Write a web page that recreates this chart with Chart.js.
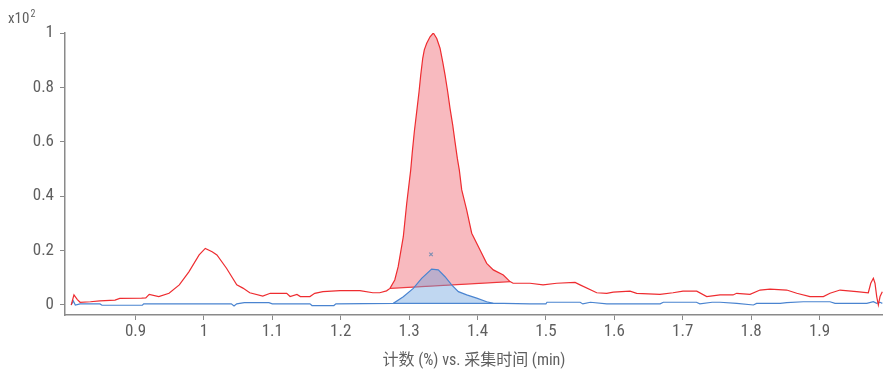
<!DOCTYPE html>
<html>
<head>
<meta charset="utf-8">
<script src="https://cdn.jsdelivr.net/npm/chart.js@4/dist/chart.umd.min.js"></script>
<style>
  html, body { margin: 0; padding: 0; background: #fff; }
  #wrap { width: 883px; height: 377px; }
  canvas { display: block; }
</style>
</head>
<body>
<div id="wrap"><canvas id="chart" width="883" height="377"></canvas></div>
<script>
// acquisition time (min) and counts (x10^2)
const redX = [0.806, 0.810, 0.815, 0.819, 0.834, 0.848, 0.870, 0.877, 0.909, 0.915, 0.920, 0.934, 0.949, 0.964, 0.978, 0.993, 1.002, 1.012, 1.019, 1.033, 1.048, 1.057, 1.067, 1.086, 1.097, 1.121, 1.126, 1.136, 1.141, 1.155, 1.162, 1.174, 1.199, 1.228, 1.247, 1.257, 1.267,
  1.272, 1.279, 1.284, 1.2915, 1.2965, 1.3023, 1.3047, 1.3076, 1.3111, 1.3145, 1.317, 1.3199, 1.3222, 1.3257, 1.3306, 1.3354, 1.3404, 1.3452, 1.3491, 1.3525, 1.3564, 1.3598, 1.3637, 1.3671, 1.3705, 1.3734, 1.3769, 1.3842, 1.3915, 1.4037, 1.4134, 1.4231, 1.4377, 1.4475,
  1.452, 1.4767, 1.4958, 1.5158, 1.5426, 1.5499, 1.5743, 1.5889, 1.5985, 1.623, 1.6327, 1.6668, 1.6858, 1.7004, 1.7205, 1.7351, 1.7545, 1.7735, 1.7789, 1.7984, 1.813, 1.8276, 1.852, 1.8667, 1.886, 1.9056, 1.9153, 1.93, 1.9544, 1.9713, 1.9749, 1.9787, 1.9811, 1.9836, 1.986, 1.9885, 1.9918];
const redY = [0.000, 0.037, 0.020, 0.010, 0.012, 0.015, 0.018, 0.024, 0.025, 0.026, 0.039, 0.031, 0.043, 0.074, 0.122, 0.184, 0.208, 0.196, 0.184, 0.135, 0.074, 0.062, 0.045, 0.033, 0.043, 0.043, 0.031, 0.039, 0.031, 0.031, 0.043, 0.049, 0.053, 0.053, 0.045, 0.045, 0.052,
  0.061, 0.092, 0.141, 0.251, 0.374, 0.496, 0.564, 0.637, 0.711, 0.784, 0.846, 0.907, 0.938, 0.962, 0.986, 1.000, 0.980, 0.944, 0.894, 0.846, 0.784, 0.723, 0.662, 0.600, 0.539, 0.496, 0.423, 0.349, 0.264, 0.202, 0.153, 0.129, 0.110, 0.086,
  0.080, 0.080, 0.074, 0.080, 0.083, 0.074, 0.045, 0.043, 0.047, 0.051, 0.043, 0.039, 0.045, 0.051, 0.051, 0.031, 0.037, 0.037, 0.043, 0.039, 0.055, 0.058, 0.055, 0.043, 0.031, 0.031, 0.043, 0.055, 0.049, 0.045, 0.080, 0.098, 0.080, 0.031, 0.000, 0.031, 0.049];

const blueX = [0.806, 0.809, 0.812, 0.819, 0.848, 0.851, 0.910, 0.912, 1.040, 1.044, 1.048, 1.059, 1.095, 1.100, 1.155, 1.158, 1.190, 1.193,
  1.2769, 1.2915, 1.3061, 1.3183, 1.3329, 1.3426, 1.3525, 1.3622, 1.3720, 1.3842, 1.3988, 1.4134, 1.4231,
  1.4377, 1.4767, 1.5000, 1.5016, 1.5500, 1.5540, 1.5650, 1.5890, 1.6670, 1.6716, 1.7200, 1.7250, 1.7430, 1.7545, 1.7790, 1.8033, 1.8080, 1.8425, 1.8520, 1.8764, 1.9153, 1.9227, 1.9691, 1.9787, 1.9836, 1.9885, 1.9918];
const blueY = [0, 0.015, 0, 0.004, 0.004, -0.001, -0.001, 0.004, 0.004, -0.004, 0.004, 0.0085, 0.0085, 0.004, 0.004, -0.002, -0.002, 0.004,
  0.006, 0.030, 0.061, 0.098, 0.132, 0.129, 0.104, 0.074, 0.049, 0.037, 0.025, 0.012, 0.006,
  0.006, 0.004, 0.004, 0.010, 0.010, 0.004, 0.010, 0.004, 0.004, 0.010, 0.010, 0.004, 0.010, 0.010, 0.006, 0, 0.006, 0.006, 0.0085, 0.012, 0.012, 0.006, 0.006, 0.012, 0.006, 0.010, 0.006];

// integrated peak ranges (start, end) in minutes
const redPeakRange = [1.272, 1.4475];
const bluePeakRange = [1.2769, 1.4231];

// peak apex marker
const markerX = [1.332];
const markerY = [0.186];

const xTicks = [0.9, 1.0, 1.1, 1.2, 1.3, 1.4, 1.5, 1.6, 1.7, 1.8, 1.9];
const yTicks = [0, 0.2, 0.4, 0.6, 0.8, 1];

const xTitle = '计数 (%) vs. 采集时间 (min)';

const FONT = "'Liberation Sans Narrow', 'Roboto Condensed', 'DejaVu Sans Condensed', 'Noto Sans CJK SC', sans-serif";
const TEXT = '#5f5f5f';
const AXIS = '#8a8a8a';

const toPoints = (xs, ys) => xs.map((x, i) => ({ x, y: ys[i] }));

const redTrace = toPoints(redX, redY);
const blueTrace = toPoints(blueX, blueY);

function peakPart(trace, range) {
  return trace.filter(p => p.x >= range[0] && p.x <= range[1]);
}

const redPeak = peakPart(redTrace, redPeakRange);
const bluePeak = peakPart(blueTrace, bluePeakRange);

const redBase = [redPeak[0], redPeak[redPeak.length - 1]];
const blueBase = [bluePeak[0], bluePeak[bluePeak.length - 1]];

const line = (data, color, extra) => ({
  data,
  borderColor: color,
  borderWidth: 1.2,
  pointRadius: 0,
  tension: 0,
  fill: false,
  ...extra
});

const superscriptLabel = {
  id: 'superscriptLabel',
  afterDraw(chart) {
    const ctx = chart.ctx;
    ctx.save();
    ctx.fillStyle = TEXT;
    ctx.textBaseline = 'alphabetic';
    ctx.textAlign = 'left';
    ctx.font = '15px ' + FONT;
    ctx.fillText('x10', 8, 23);
    const w = ctx.measureText('x10').width;
    ctx.font = '10px ' + FONT;
    ctx.fillText('2', 8 + w + 1, 17);
    ctx.restore();
  }
};

new Chart(document.getElementById('chart'), {
  type: 'line',
  data: {
    datasets: [
      line(redTrace, '#ee2c30'),
      line(blueTrace, '#4a84d0'),
      {
        type: 'scatter',
        data: toPoints(markerX, markerY),
        pointStyle: 'crossRot',
        pointRadius: 2.5,
        borderColor: '#7d8fb3',
        borderWidth: 1.2
      },
      line(bluePeak, 'rgba(0,0,0,0)', {
        borderWidth: 0,
        fill: '+1',
        backgroundColor: 'rgba(105,160,222,0.42)'
      }),
      line(blueBase, '#4a84d0'),
      line(redPeak, 'rgba(0,0,0,0)', {
        borderWidth: 0,
        fill: '+1',
        backgroundColor: 'rgba(240,105,115,0.46)'
      }),
      line(redBase, '#ee2c30')
    ]
  },
  options: {
    responsive: false,
    animation: false,
    layout: { autoPadding: false, padding: { top: 33, left: 0, right: 0, bottom: 0 } },
    plugins: {
      legend: { display: false },
      tooltip: { enabled: false }
    },
    scales: {
      x: {
        type: 'linear',
        min: 0.7969,
        max: 1.9928,
        afterBuildTicks(scale) {
          scale.ticks = xTicks.map(value => ({ value }));
        },
        afterFit(scale) {
          scale.height = 62;
          scale.paddingLeft = 0;
          scale.paddingRight = 0;
        },
        ticks: {
          color: TEXT,
          font: { family: FONT, size: 17 },
          padding: 2,
          maxRotation: 0,
          autoSkip: false,
          callback: v => String(Math.round(v * 10) / 10)
        },
        grid: { drawOnChartArea: false, drawTicks: true, tickLength: 5, color: AXIS },
        border: { display: true, color: AXIS, width: 1.5 },
        title: {
          display: true,
          text: xTitle,
          color: TEXT,
          font: { family: FONT, size: 16 },
          padding: { top: 0, bottom: 6 }
        }
      },
      y: {
        type: 'linear',
        min: -0.0368,
        max: 1,
        afterBuildTicks(scale) {
          scale.ticks = yTicks.map(value => ({ value }));
        },
        afterFit(scale) {
          scale.width = 65;
        },
        ticks: {
          color: TEXT,
          font: { family: FONT, size: 17 },
          padding: 6,
          callback: v => String(Math.round(v * 10) / 10)
        },
        grid: { drawOnChartArea: false, drawTicks: true, tickLength: 5, color: AXIS },
        border: { display: true, color: AXIS, width: 1.5 }
      }
    }
  },
  plugins: [superscriptLabel]
});
</script>
</body>
</html>
